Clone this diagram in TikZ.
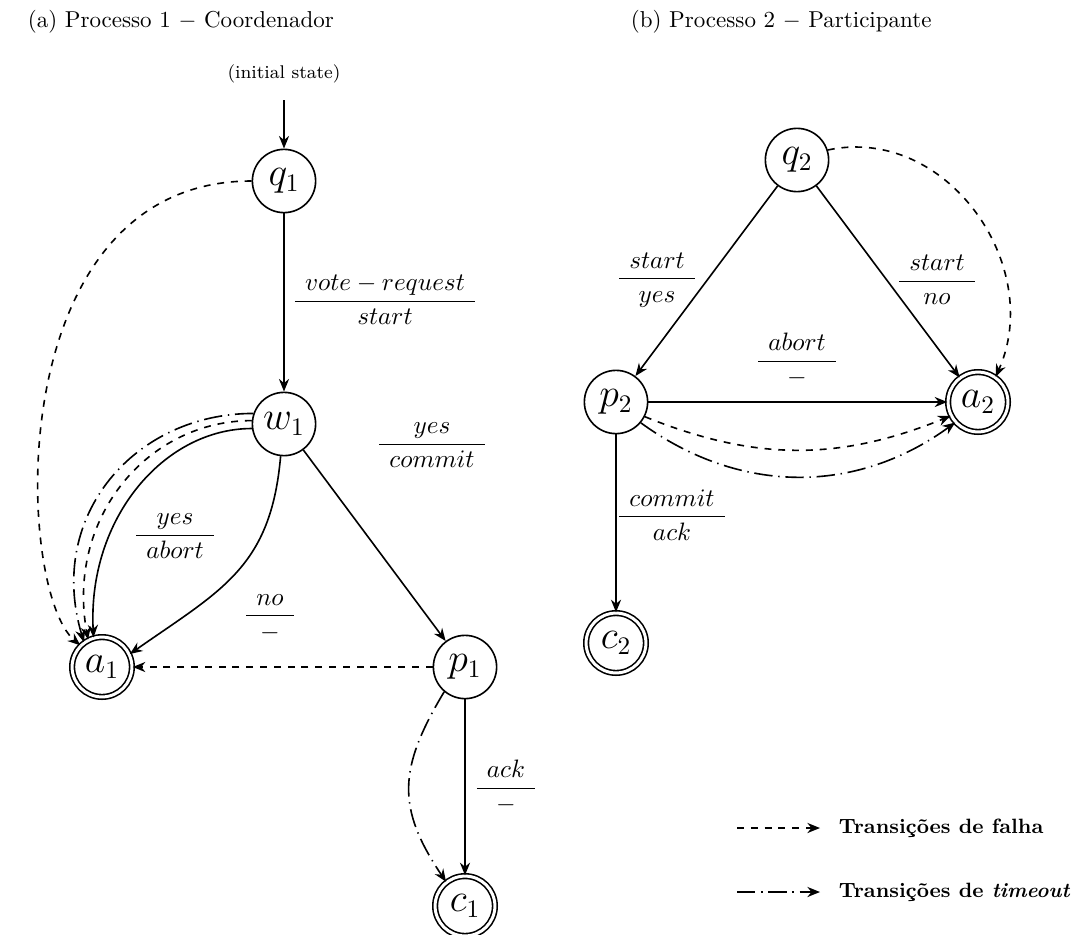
\documentclass[tikz,border=0pt]{standalone}
\usepackage{fontspec}
\usepackage{amsmath}
\usetikzlibrary{arrows.meta}
\newcommand{\trlabel}[2]{$\dfrac{\hspace{4.4pt}#1\hspace{4.4pt}}{\hspace{4.4pt}#2\hspace{4.4pt}}$}

\begin{document}
\begin{tikzpicture}[x=0.4348pt,y=0.4348pt,line width=0.7pt,
  >={Stealth[length=5.5pt,width=4.4pt]},
  state/.style={circle,draw,minimum size=27.5pt,inner sep=0pt,font=\fontsize{16}{18}\selectfont},
  accst/.style={state,double,double distance=1.3pt,minimum size=26pt},
  lbl/.style={inner sep=0pt,font=\fontsize{10.8}{13}\selectfont},
  legtext/.style={anchor=west,inner sep=0pt,font=\fontsize{9}{11}\selectfont\bfseries},
  fail/.style={dashed},
  tmo/.style={dash pattern=on 8pt off 2.5pt on 0.6pt off 2.5pt}]

\useasboundingbox (0,0) rectangle (1072,934);

% captions
\node[anchor=west,inner sep=0pt] (capA) at (27,912) {(a) Processo 1 $-$ Coordenador};
\node[anchor=west,inner sep=0pt] (capB) at (630,912) {(b) Processo 2 $-$ Participante};

% process 1: coordinator
\node[inner sep=1pt,font=\footnotesize] (init) at (284,860) {(initial state)};
\node[state] (q1) at (284,753) {$q_1$};
\node[state] (w1) at (284,510) {$w_1$};
\node[accst] (a1) at (102,267) {$a_1$};
\node[state] (p1) at (465,267) {$p_1$};
\node[accst] (c1) at (465,28) {$c_1$};

\draw[->,shorten <=6pt] (init) -- (q1);
\draw[->] (q1) -- (w1);
\draw[->,fail] (q1.180) .. controls +(-253,0) and +(-65,55) .. (a1.135);
\draw[->] (w1.188) .. controls +(-88,0) and +(-6,119) .. (a1.106);
\draw[->,fail] (w1.174) .. controls +(-104,0) and +(-22,122) .. (a1.117);
\draw[->,tmo] (w1.161) .. controls +(-118,0) and +(-38,127) .. (a1.126);
\draw[->] (w1.264) to[out=-95,in=35,looseness=1.15] (a1.25);
\draw[->] (w1) -- (p1);
\draw[->,fail] (p1) -- (a1);
\draw[->] (p1) -- (c1);
\draw[->,tmo] (p1.230) to[out=239,in=124,looseness=1.2] (c1.128);

\node[lbl] (l-vote) at (385,634) {\trlabel{vote - request}{start}};
\node[lbl] (l-yesabort) at (175,398) {\trlabel{yes}{abort}};
\node[lbl] (l-no) at (270,316) {\trlabel{no}{-}};
\node[lbl] (l-yescommit) at (432,489) {\trlabel{yes}{commit}};
\node[lbl] (l-ack) at (506,147) {\trlabel{ack}{-}};

% process 2: participant
\node[state] (q2) at (797,774) {$q_2$};
\node[state] (p2) at (616,532) {$p_2$};
\node[accst] (a2) at (978,532) {$a_2$};
\node[accst] (c2) at (616,291) {$c_2$};

\draw[->] (q2) -- (p2);
\draw[->] (q2) -- (a2);
\draw[->,fail] (q2.18) to[out=12,in=66,looseness=1.1] (a2.55);
\draw[->] (p2) -- (a2);
\draw[->,fail] (p2.-27) to[out=-22,in=202] (a2.207);
\draw[->,tmo] (p2.-40) to[out=-36,in=216] (a2.222);
\draw[->] (p2) -- (c2);

\node[lbl] (l-startyes) at (657,654) {\trlabel{start}{yes}};
\node[lbl] (l-startno) at (937,654) {\trlabel{start}{no}};
\node[lbl] (l-abort) at (797,574) {\trlabel{abort}{-}};
\node[lbl] (l-commitack) at (672,419) {\trlabel{commit}{ack}};

% legend
\coordinate (lf1) at (737,106);
\coordinate (lf2) at (820,106);
\coordinate (lt1) at (737,42);
\coordinate (lt2) at (820,42);
\draw[->,fail] (lf1) -- (lf2);
\draw[->,tmo] (lt1) -- (lt2);
\node[legtext] (leg-fail) at (838,106) {Transições de falha};
\node[legtext] (leg-tmo) at (838,42) {Transições de \textit{timeout}};
\end{tikzpicture}
\end{document}
